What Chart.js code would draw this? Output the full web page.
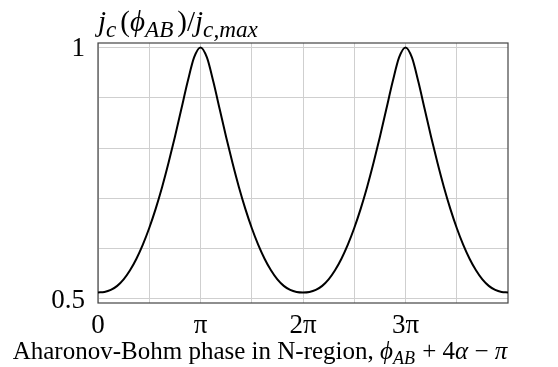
<!DOCTYPE html>
<html><head><meta charset="utf-8">
<script src="https://cdn.jsdelivr.net/npm/chart.js@4.4.0/dist/chart.umd.min.js"></script>
<style>html,body{margin:0;padding:0;background:#fff;overflow:hidden}#wrap{width:558px;height:367px}</style>
</head><body><div id="wrap"><canvas id="c" width="558" height="367"></canvas></div>
<script>
// phase in units of pi
const phaseInPi = [0,0.0625,0.125,0.1875,0.25,0.3125,0.375,0.4375,0.5,0.5625,0.625,0.6875,0.75,0.8125,0.875,0.9375,
  1,1.0625,1.125,1.1875,1.25,1.3125,1.375,1.4375,1.5,1.5625,1.625,1.6875,1.75,1.8125,1.875,1.9375,
  2,2.0625,2.125,2.1875,2.25,2.3125,2.375,2.4375,2.5,2.5625,2.625,2.6875,2.75,2.8125,2.875,2.9375,
  3,3.0625,3.125,3.1875,3.25,3.3125,3.375,3.4375,3.5,3.5625,3.625,3.6875,3.75,3.8125,3.875,3.9375,4];
const jcNorm = [0.513,0.514,0.518,0.526,0.539,0.557,0.580,0.608,0.641,0.679,0.722,0.770,0.822,0.877,0.932,0.980,
  1.000,0.980,0.932,0.877,0.822,0.770,0.722,0.679,0.641,0.608,0.580,0.557,0.539,0.526,0.518,0.514,
  0.513,0.514,0.518,0.526,0.539,0.557,0.580,0.608,0.641,0.679,0.722,0.770,0.822,0.877,0.932,0.980,
  1.000,0.980,0.932,0.877,0.822,0.770,0.722,0.679,0.641,0.608,0.580,0.557,0.539,0.526,0.518,0.514,0.513];
const xGridValues = [0,0.5,1,1.5,2,2.5,3,3.5];
const xTickLabels = ['0','π','2π','3π'];   // at 0,1,2,3 (×π)
const yGridValues = [0.5,0.6,0.7,0.8,0.9,1.0];
const yTickLabels = ['0.5','1'];           // at 0.5 and 1
const xTitleParts = [
  {t:'Aharonov-Bohm phase in N-region, '},{t:'ϕ',it:1},{t:'AB',it:1,sub:1},{t:' + 4'},{t:'α',it:1},{t:' − '},{t:'π',it:1}];
const yTitleParts = [
  {t:'j',it:1},{t:'c',it:1,sub:1},{t:'(',},{t:'ϕ',it:1},{t:'AB',it:1,sub:1},{t:')/'},{t:'j',it:1},{t:'c,max',it:1,sub:1}];

const FONT = '"Liberation Serif", "DejaVu Serif", serif';
function richWidth(ctx, parts, size, r, gap){
  let w=0;
  for(const p of parts){const fs=p.sub?size*r:size;ctx.font=(p.it?'italic ':'')+fs+'px '+FONT;w+=ctx.measureText(p.t).width+(p.sub?gap:0);}
  return w;
}
function drawRich(ctx, parts, x, y, size, r, gap){
  let cx=x;
  for(const p of parts){
    const fs=p.sub?size*r:size;
    ctx.font=(p.it?'italic ':'')+fs+'px '+FONT;
    ctx.fillText(p.t,cx,y+(p.sub?size*0.2:0));
    cx+=ctx.measureText(p.t).width+(p.sub?gap:0);
  }
}
const framePlugin = {
  id:'frame',
  beforeDatasetsDraw(chart){
    const {ctx,chartArea:a}=chart;
    ctx.save();ctx.strokeStyle='#444';ctx.lineWidth=1.2;
    ctx.strokeRect(a.left,a.top,a.right-a.left,a.bottom-a.top);ctx.restore();
  },
  afterDraw(chart){
    const {ctx,chartArea:a}=chart;
    ctx.save();ctx.fillStyle='#000';ctx.textBaseline='alphabetic';ctx.textAlign='left';
    let s=20, w=richWidth(ctx,xTitleParts,s,0.72,1); s=s*495/w; w=richWidth(ctx,xTitleParts,s,0.72,1);
    drawRich(ctx,xTitleParts,260-w/2,359,s,0.72,1);
    drawRich(ctx,yTitleParts,a.left,31,29,0.8,4);
    ctx.restore();
  }
};
new Chart(document.getElementById('c'),{
  type:'line',
  data:{datasets:[{data:phaseInPi.map((x,i)=>({x,y:jcNorm[i]})),borderColor:'#000',borderWidth:2,pointRadius:0,
    fill:false,cubicInterpolationMode:'monotone'}]},
  options:{
    responsive:false,animation:false,devicePixelRatio:1,
    layout:{padding:{top:43,right:50,left:0,bottom:0}},
    plugins:{legend:{display:false},tooltip:{enabled:false}},
    scales:{
      x:{type:'linear',min:0,max:4,
        afterBuildTicks:s=>{s.ticks=xGridValues.map(v=>({value:v}));},
        afterFit:s=>{s.height=64;},
        grid:{color:'#cfcfcf',lineWidth:1,drawTicks:false},
        border:{display:false},
        ticks:{autoSkip:false,maxRotation:0,padding:7,color:'#000',font:{family:FONT,size:27},
          callback:v=>Number.isInteger(v)&&v<xTickLabels.length?xTickLabels[v]:''}},
      y:{type:'linear',min:0.492,max:1.0087,
        afterBuildTicks:s=>{s.ticks=yGridValues.map(v=>({value:v}));},
        afterFit:s=>{s.width=98;},
        grid:{color:'#cfcfcf',lineWidth:1,drawTicks:false},
        border:{display:false},
        ticks:{autoSkip:false,padding:13,labelOffset:2,color:'#000',font:{family:FONT,size:27},
          callback:v=>v===0.5?yTickLabels[0]:(v===1?yTickLabels[1]:'')}}
    }
  },
  plugins:[framePlugin]
});
</script></body></html>
